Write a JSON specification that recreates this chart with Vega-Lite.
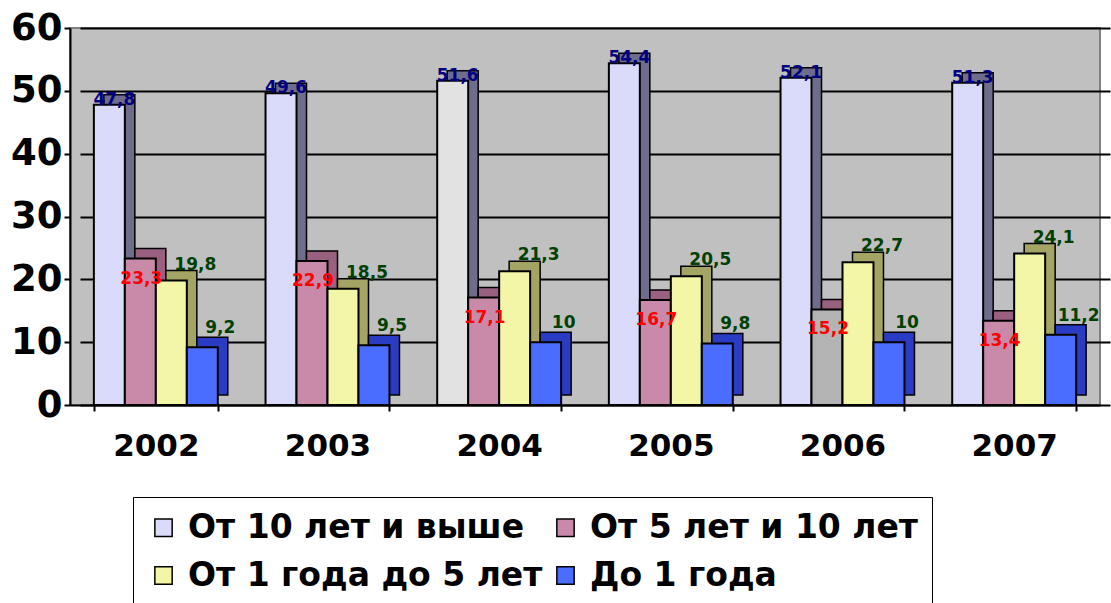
{
  "$schema": "https://vega.github.io/schema/vega-lite/v6.json",
  "autosize": {"type": "none"},
  "padding": {"left": 70, "top": 28, "right": 11, "bottom": 198},
  "width": 1030,
  "height": 377,
  "background": "white",
  "config": {
    "locale": {"number": {"decimal": ",", "thousands": " ", "grouping": [3], "currency": ["", ""]}},
    "view": {"fill": "#c0c0c0", "stroke": "#808080", "strokeWidth": 2},
    "font": "DejaVu Sans"
  },
  "data": {
    "values": [
      {"year": "2002", "series": "От 10 лет и выше", "value": 47.8},
      {"year": "2002", "series": "От 5 лет и 10 лет", "value": 23.3},
      {"year": "2002", "series": "От 1 года до 5 лет", "value": 19.8},
      {"year": "2002", "series": "До 1 года", "value": 9.2},
      {"year": "2003", "series": "От 10 лет и выше", "value": 49.6},
      {"year": "2003", "series": "От 5 лет и 10 лет", "value": 22.9},
      {"year": "2003", "series": "От 1 года до 5 лет", "value": 18.5},
      {"year": "2003", "series": "До 1 года", "value": 9.5},
      {"year": "2004", "series": "От 10 лет и выше", "value": 51.6},
      {"year": "2004", "series": "От 5 лет и 10 лет", "value": 17.1},
      {"year": "2004", "series": "От 1 года до 5 лет", "value": 21.3},
      {"year": "2004", "series": "До 1 года", "value": 10},
      {"year": "2005", "series": "От 10 лет и выше", "value": 54.4},
      {"year": "2005", "series": "От 5 лет и 10 лет", "value": 16.7},
      {"year": "2005", "series": "От 1 года до 5 лет", "value": 20.5},
      {"year": "2005", "series": "До 1 года", "value": 9.8},
      {"year": "2006", "series": "От 10 лет и выше", "value": 52.1},
      {"year": "2006", "series": "От 5 лет и 10 лет", "value": 15.2},
      {"year": "2006", "series": "От 1 года до 5 лет", "value": 22.7},
      {"year": "2006", "series": "До 1 года", "value": 10},
      {"year": "2007", "series": "От 10 лет и выше", "value": 51.3},
      {"year": "2007", "series": "От 5 лет и 10 лет", "value": 13.4},
      {"year": "2007", "series": "От 1 года до 5 лет", "value": 24.1},
      {"year": "2007", "series": "До 1 года", "value": 11.2}
    ]
  },
  "encoding": {
    "xOffset": {
      "field": "series", "type": "nominal",
      "sort": ["От 10 лет и выше", "От 5 лет и 10 лет", "От 1 года до 5 лет", "До 1 года"],
      "scale": {"paddingInner": 0, "paddingOuter": 0}
    },
    "y": {
      "field": "value", "type": "quantitative", "title": null,
      "scale": {"domain": [0, 60], "nice": false},
      "axis": {
        "values": [0, 10, 20, 30, 40, 50, 60],
        "labelFont": "DejaVu Sans", "labelFontWeight": "bold", "labelFontSize": 37,
        "labelColor": "black", "labelPadding": 2, "domainColor": "black", "domainWidth": 2,
        "tickColor": "black", "tickWidth": 2, "tickSize": 6,
        "grid": true, "gridColor": "black", "gridWidth": 2
      }
    }
  },
  "resolve": {"scale": {"x": "independent", "xOffset": "independent", "fill": "independent"}},
  "layer": [
    {
      "mark": {"type": "bar", "yOffset": -10, "y2Offset": -10, "stroke": "black", "strokeWidth": 1.5},
      "encoding": {
        "x": {
          "field": "year", "type": "nominal", "title": null, "axis": null,
          "scale": {"paddingInner": 0.278, "paddingOuter": 0.139, "range": [10, 1040]}
        },
        "fill": {
          "field": "series", "type": "nominal", "legend": null,
          "scale": {
            "domain": ["От 10 лет и выше", "От 5 лет и 10 лет", "От 1 года до 5 лет", "До 1 года"],
            "range": ["#6e6e8c", "#9a6080", "#a4a464", "#2a3cc4"]
          }
        }
      }
    },
    {
      "encoding": {
        "x": {
          "field": "year", "type": "nominal", "title": null,
          "scale": {"paddingInner": 0.278, "paddingOuter": 0.139},
          "axis": {
            "labelAngle": 0, "labelFont": "DejaVu Sans", "labelFontWeight": "bold", "labelFontSize": 31,
            "labelColor": "black", "labelPadding": 20, "domainColor": "black", "domainWidth": 2,
            "tickColor": "black", "tickWidth": 2, "tickSize": 6, "tickBand": "extent"
          }
        }
      },
      "layer": [
        {
          "mark": {"type": "bar", "stroke": "black", "strokeWidth": 2},
          "encoding": {
            "fill": {
              "condition": [
                {"test": "datum.year === '2004' && datum.series === 'От 10 лет и выше'", "value": "#e2e2e2"},
                {"test": "datum.year === '2006' && datum.series === 'От 5 лет и 10 лет'", "value": "#b4b4b4"}
              ],
              "field": "series", "type": "nominal",
              "scale": {
                "domain": ["От 10 лет и выше", "От 5 лет и 10 лет", "От 1 года до 5 лет", "До 1 года"],
                "range": ["#dadafa", "#c88aa8", "#f2f6a6", "#4a6cff"]
              },
              "legend": {
                "title": null, "orient": "none", "legendX": 63, "legendY": 469, "direction": "horizontal",
                "columns": 2, "columnPadding": 6, "rowPadding": 14, "padding": 14,
                "strokeColor": "black", "fillColor": "white",
                "symbolType": "square", "symbolSize": 300, "symbolStrokeColor": "black", "symbolStrokeWidth": 1.5,
                "labelFont": "DejaVu Sans", "labelFontWeight": "bold", "labelFontSize": 33, "labelColor": "black",
                "labelOffset": 8, "labelLimit": 0
              }
            }
          }
        },
        {
          "transform": [{"filter": "datum.series === 'От 10 лет и выше'"}],
          "mark": {"type": "text", "font": "DejaVu Sans", "fontWeight": "bold", "fontSize": 17, "color": "#000080", "baseline": "alphabetic", "dx": 5, "dy": 0},
          "encoding": {"text": {"field": "value", "type": "quantitative", "format": ".1~f"}}
        },
        {
          "transform": [{"filter": "datum.series === 'От 5 лет и 10 лет'"}],
          "mark": {"type": "text", "font": "DejaVu Sans", "fontWeight": "bold", "fontSize": 17, "color": "#ff0000", "baseline": "alphabetic", "dx": 1, "dy": 25},
          "encoding": {"text": {"field": "value", "type": "quantitative", "format": ".1~f"}}
        },
        {
          "transform": [{"filter": "datum.series === 'От 1 года до 5 лет'"}],
          "mark": {"type": "text", "font": "DejaVu Sans", "fontWeight": "bold", "fontSize": 17, "color": "#004000", "baseline": "alphabetic", "dx": 24, "dy": -11},
          "encoding": {"text": {"field": "value", "type": "quantitative", "format": ".1~f"}}
        },
        {
          "transform": [{"filter": "datum.series === 'До 1 года'"}],
          "mark": {"type": "text", "font": "DejaVu Sans", "fontWeight": "bold", "fontSize": 17, "color": "#004000", "baseline": "alphabetic", "dx": 18, "dy": -14},
          "encoding": {"text": {"field": "value", "type": "quantitative", "format": ".1~f"}}
        }
      ]
    }
  ]
}
